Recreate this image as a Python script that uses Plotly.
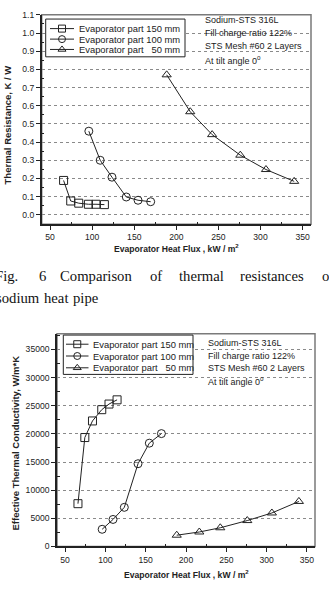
import plotly.graph_objects as go

W, H = 329, 596

# ---------------- data ----------------
flux_150 = [66, 74.5, 84, 95.5, 104.5, 114.5]
flux_100 = [96, 109.5, 123.5, 140.5, 154.5, 169.5]
flux_50 = [188.5, 216.5, 242.5, 276, 306.5, 340]

res_150 = [0.189, 0.076, 0.064, 0.058, 0.058, 0.056]
res_100 = [0.46, 0.30, 0.207, 0.098, 0.080, 0.072]
res_50 = [0.77, 0.567, 0.441, 0.328, 0.249, 0.184]

k_150 = [7600, 19350, 22300, 24300, 25300, 26050]
k_100 = [3050, 4800, 6950, 14700, 18350, 20050]
k_50 = [2000, 2570, 3320, 4600, 5950, 8000]

series_names = ["Evaporator part 150 mm", "Evaporator part 100 mm", "Evaporator part&nbsp;&nbsp;&nbsp;50 mm"]
symbols = ["square-open", "circle-open", "triangle-up-open"]

res_ticks = [0.0, 0.1, 0.2, 0.3, 0.4, 0.5, 0.6, 0.7, 0.8, 0.9, 1.0, 1.1]
k_ticks = [0, 5000, 10000, 15000, 20000, 25000, 30000, 35000]
flux_ticks = [50, 100, 150, 200, 250, 300, 350]

info_lines = ["Sodium-STS 316L", "Fill charge ratio 122%", "STS Mesh #60 2 Layers", "At tilt angle 0<sup>o</sup>"]

# ---------------- styling ----------------
FONT = "Liberation Sans, Arial, sans-serif"
SERIF = "Liberation Serif, Times New Roman, serif"
INK = "#222222"
GRID = "#8a8a8a"


def px(x, y):
    return x / W, 1 - y / H


fig = go.Figure()

datasets = [
    ("x", "y", [(flux_150, res_150), (flux_100, res_100), (flux_50, res_50)]),
    ("x2", "y2", [(flux_150, k_150), (flux_100, k_100), (flux_50, k_50)]),
]
for xa, ya, sets in datasets:
    for (xs, ys), sym in zip(sets, symbols):
        fig.add_trace(go.Scatter(
            x=xs, y=ys, xaxis=xa, yaxis=ya, mode="lines+markers",
            line=dict(color=INK, width=1),
            marker=dict(symbol=sym, size=8, color=INK, line=dict(color=INK, width=1)),
            showlegend=False, cliponaxis=False))

# overlay pixel axes for the hand-drawn legends
legend_rows = [
    dict(box=(45.7, 14.3, 185, 52.7), rows=[24, 34.7, 45.2], lx=(50, 74), tx=76.5),
    dict(box=(63.3, 335.7, 193, 375.7), rows=[345, 357, 369], lx=(66, 88.5), tx=90.5),
]
for lg in legend_rows:
    x0, y0, x1, y1 = lg["box"]
    fig.add_shape(type="rect", xref="x3", yref="y3", x0=x0, y0=y0, x1=x1, y1=y1,
                  line=dict(color=INK, width=1), fillcolor="white", layer="below")
    mx = (lg["lx"][0] + lg["lx"][1]) / 2
    for r, sym, name in zip(lg["rows"], symbols, series_names):
        fig.add_shape(type="line", xref="x3", yref="y3", x0=lg["lx"][0], x1=lg["lx"][1],
                      y0=r, y1=r, line=dict(color=INK, width=1), layer="below")
        fig.add_trace(go.Scatter(
            x=[mx], y=[r], xaxis="x3", yaxis="y3", mode="markers",
            marker=dict(symbol=sym, size=7, color=INK, line=dict(color=INK, width=1)),
            showlegend=False, cliponaxis=False))
        fig.add_annotation(xref="x3", yref="y3", x=lg["tx"], y=r, text=name,
                           showarrow=False, xanchor="left", yanchor="middle",
                           font=dict(family=FONT, size=9.4, color=INK))

# info text blocks
for x0, ys in [(203, [15, 28.5, 42, 55.5]), (205.5, [344, 356.5, 369, 382])]:
    for y, t in zip(ys, info_lines):
        fig.add_annotation(xref="x3", yref="y3", x=x0, y=y, text=t, showarrow=False,
                           xanchor="left", yanchor="middle",
                           font=dict(family=FONT, size=9, color=INK))

# axis titles
fig.add_annotation(xref="x3", yref="y3", x=176, y=248,
                   text="<b>Evaporator Heat Flux , kW / m<sup>2</sup></b>", showarrow=False,
                   xanchor="center", yanchor="middle", font=dict(family=FONT, size=8.6, color=INK))
fig.add_annotation(xref="x3", yref="y3", x=186, y=579,
                   text="<b>Evaporator Heat Flux , kW / m<sup>2</sup></b>", showarrow=False,
                   xanchor="center", yanchor="middle", font=dict(family=FONT, size=8.6, color=INK))
fig.add_annotation(xref="x3", yref="y3", x=7.5, y=122,
                   text="<b>Thermal Resistance, K / W</b>", showarrow=False, textangle=-90,
                   xanchor="center", yanchor="middle", font=dict(family=FONT, size=9.5, color=INK))
fig.add_annotation(xref="x3", yref="y3", x=16, y=446,
                   text="<b>Effective Thermal Conductivity, W/m*K</b>", showarrow=False, textangle=-90,
                   xanchor="center", yanchor="middle", font=dict(family=FONT, size=9.5, color=INK))

# caption (justified words)
cap1 = [("Fig.", -7.5), ("6", 36.5), ("Comparison", 58.3), ("of", 148.3), ("thermal", 176.7),
        ("resistances", 238.3), ("o", 320)]
cap2 = [("sodium", -6.2), ("heat", 41.7), ("pipe", 70.7)]
for words, y in [(cap1, 275.5), (cap2, 297.5)]:
    for w, x in words:
        xp, yp = px(x, y)
        fig.add_annotation(xref="paper", yref="paper", x=xp, y=yp, text=w, showarrow=False,
                           xanchor="left", yanchor="middle",
                           font=dict(family=SERIF, size=14.7, color="#111111"))

# frames
for xa in ["x", "x2"]:
    ya = xa.replace("x", "y")
    fig.add_shape(type="rect", xref=f"{xa} domain", yref=f"{ya} domain", x0=0, x1=1, y0=0, y1=1,
                  line=dict(color="#7a7a7a", width=1.5), layer="below")

axis_common = dict(showline=True, linecolor=INK, linewidth=1.5, ticks="outside", ticklen=4,
                   tickwidth=1, tickcolor=INK, zeroline=False,
                   tickfont=dict(family=FONT, size=8.6, color=INK),
                   minor=dict(ticks="inside", ticklen=3, tickwidth=1, tickcolor=INK, showgrid=False))

tx0, ty0 = px(41.7, 10)
tx1, ty1 = px(311, 223)
bx0, by0 = px(57, 334.3)
bx1, by1 = px(315, 550.7)

fig.update_layout(
    width=W, height=H, margin=dict(l=0, r=0, t=0, b=0),
    paper_bgcolor="white", plot_bgcolor="rgba(0,0,0,0)", showlegend=False,
    xaxis=dict(domain=[tx0, tx1], anchor="y", range=[40, 360], tickvals=flux_ticks,
               showgrid=False, minor_tickvals=[75, 125, 175, 225, 275, 325], **axis_common),
    yaxis=dict(domain=[ty1, ty0], anchor="x", range=[-0.052, 1.1], tickvals=res_ticks,
               ticktext=[f"{v:.1f}" for v in res_ticks],
               showgrid=True, gridcolor=GRID, griddash="dot", gridwidth=1,
               minor_tickvals=[v + 0.05 for v in res_ticks[:-1]], **axis_common),
    xaxis2=dict(domain=[bx0, bx1], anchor="y2", range=[40, 360], tickvals=flux_ticks,
                showgrid=False, minor_tickvals=[75, 125, 175, 225, 275, 325], **axis_common),
    yaxis2=dict(domain=[by1, by0], anchor="x2", range=[0, 37800], tickvals=k_ticks,
                ticktext=[str(v) for v in k_ticks],
                showgrid=True, gridcolor=GRID, griddash="dot", gridwidth=1,
                minor_tickvals=[v + 2500 for v in k_ticks], **axis_common),
    xaxis3=dict(domain=[0, 1], anchor="y3", range=[0, W], visible=False, fixedrange=True),
    yaxis3=dict(domain=[0, 1], anchor="x3", range=[H, 0], visible=False, fixedrange=True),
)

fig.write_html("out.html")
